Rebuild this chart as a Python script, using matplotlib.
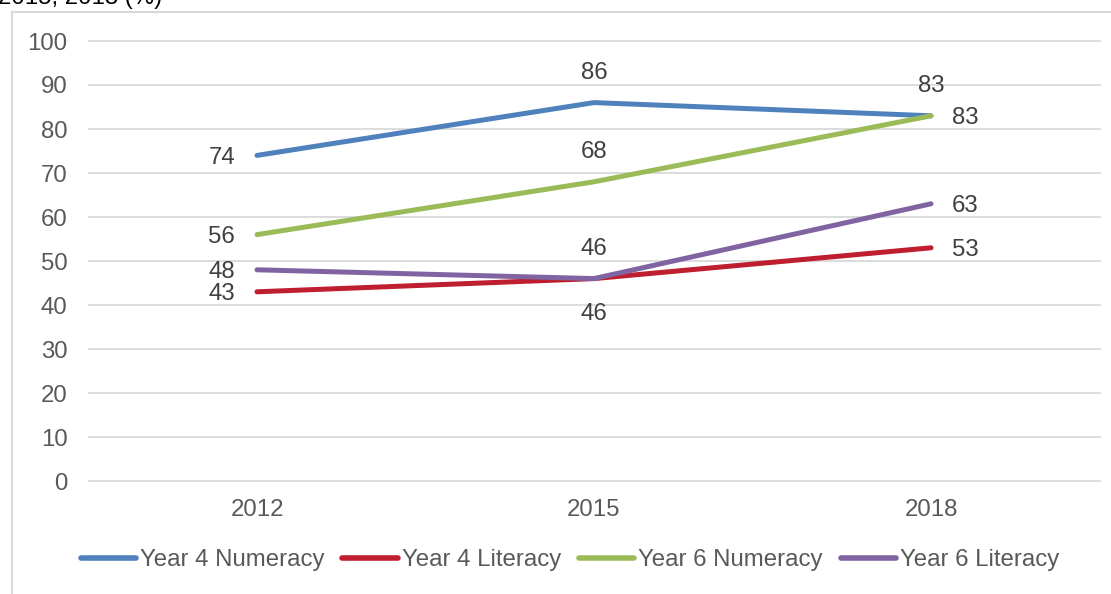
import matplotlib
matplotlib.use("Agg")
import matplotlib.pyplot as plt
from matplotlib.lines import Line2D

plt.rcParams['font.family'] = ['Liberation Sans', 'DejaVu Sans']

years = ["2012", "2015", "2018"]
y4_num = [74, 86, 83]
y4_lit = [43, 46, 53]
y6_num = [56, 68, 83]
y6_lit = [48, 46, 63]
series_names = ["Year 4 Numeracy", "Year 4 Literacy", "Year 6 Numeracy", "Year 6 Literacy"]
colors = ["#4F81BD", "#BE1E2D", "#9BBB59", "#8064A2"]
yticks = [0, 10, 20, 30, 40, 50, 60, 70, 80, 90, 100]

# label placements per series per point: 'left', 'above', 'below', 'right'
placements = [
    ["left", "above", "above"],
    ["left", "below", "right"],
    ["left", "above", "right"],
    ["left", "above", "right"],
]

FS = 17.3
W, H = 1111, 594
fig = plt.figure(figsize=(W / 100, H / 100), dpi=100)
ax = fig.add_axes([88.5 / W, (H - 481) / H, (1099.5 - 88.5) / W, (481 - 41) / H])

x = list(range(len(years)))
all_series = [y4_num, y4_lit, y6_num, y6_lit]
for vals, name, c in zip(all_series, series_names, colors):
    ax.plot(x, vals, color=c, lw=3.6, solid_capstyle='round', label=name, zorder=3)

offs = {"left": (-22, 0, 'right', 'center_baseline'),
        "right": (21, 0, 'left', 'center_baseline'),
        "above": (0, 32, 'center', 'center_baseline'),
        "below": (0, -33, 'center', 'center_baseline')}
for vals, pl in zip(all_series, placements):
    for xi, v, p in zip(x, vals, pl):
        dx, dy, ha, va = offs[p]
        ax.annotate(str(v), (xi, v), xytext=(dx * 0.72, dy * 0.72), textcoords='offset points',
                    ha=ha, va=va, fontsize=FS, color='#404040', zorder=4)

ax.set_xlim(-0.5, 2.5)
ax.set_ylim(0, 100)
ax.set_yticks(yticks)
ax.set_xticks(x)
ax.set_xticklabels(years)
ax.grid(axis='y', color='#d9d9d9', lw=1.3, clip_on=False)
ax.set_axisbelow(True)
for s in ax.spines.values():
    s.set_visible(False)
ax.tick_params(axis='both', length=0, labelsize=FS, colors='#595959')
ax.tick_params(axis='y', pad=15)
ax.tick_params(axis='x', pad=13)
for gl in ax.get_ygridlines():
    gl.set_clip_on(False)

leg = fig.legend(loc='center', bbox_to_anchor=(570 / W, 1 - 560 / H), ncol=4, frameon=False,
                 fontsize=FS, handlelength=2.3, handletextpad=0.17, columnspacing=0.75,
                 labelcolor='#595959')
for ln in leg.get_lines():
    ln.set_linewidth(4.0)

# outer chart border (partially visible)
fig.add_artist(Line2D([11.5 / W, 11.5 / W], [0, 1 - 11.5 / H], color='#d9d9d9', lw=1.5))
fig.add_artist(Line2D([11.5 / W, 1], [1 - 11.5 / H, 1 - 11.5 / H], color='#d9d9d9', lw=1.5))

# cut-off title (partially visible at top edge, as in the source)
fig.text(-2 / W, 1 - 4 / H, "2015, 2018 (%)", fontsize=FS, color='#000000', ha='left', va='baseline')

fig.savefig("out.png", dpi=100, facecolor='white')
